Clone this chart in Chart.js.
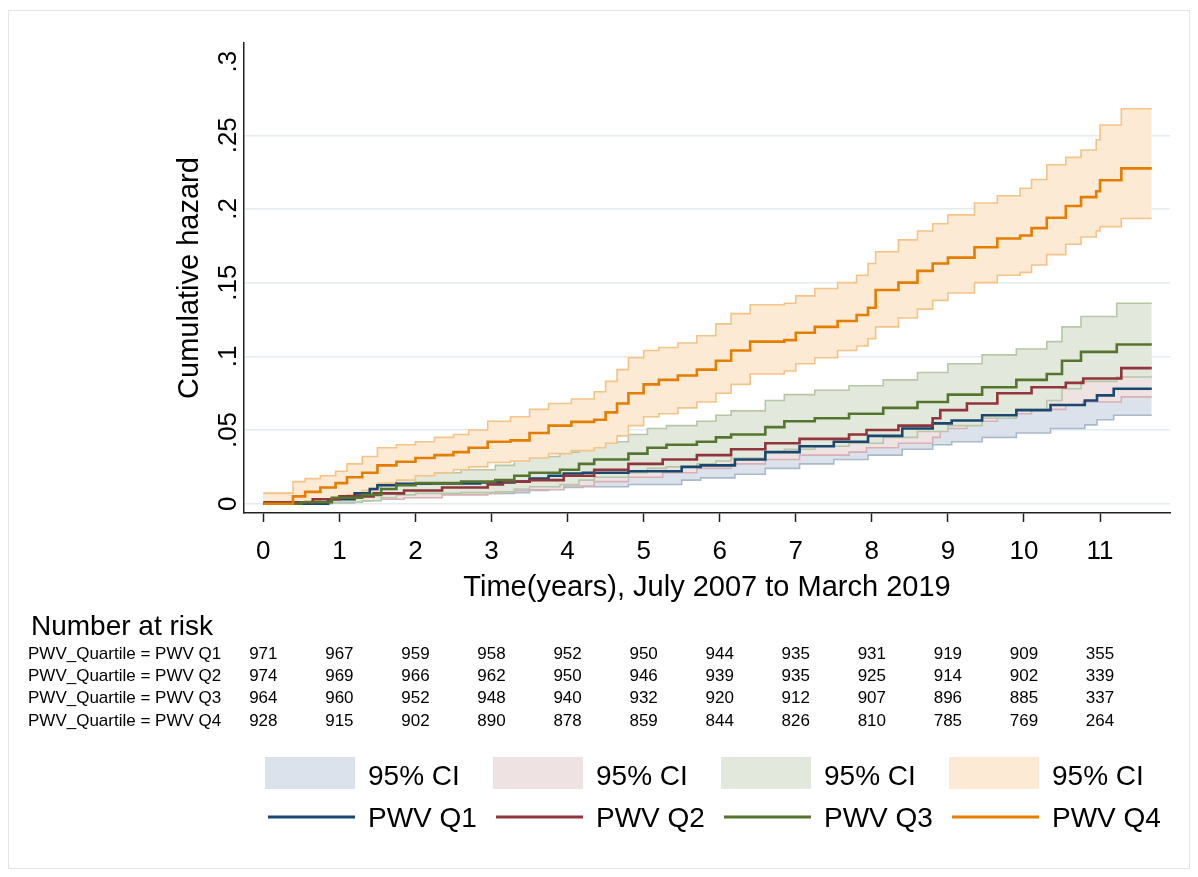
<!DOCTYPE html>
<html>
<head>
<meta charset="utf-8">
<title>Cumulative hazard by PWV quartile</title>
<script src="https://cdn.jsdelivr.net/npm/chart.js@4.4.1/dist/chart.umd.min.js"></script>
<style>
    html, body { margin: 0; padding: 0; background: #ffffff; }
    #wrap { position: relative; width: 1198px; height: 877px; }
</style>
</head>
<body>
<div id="wrap"><canvas id="hazard-chart" width="1198" height="877"></canvas></div>
<script>
// ============================================
// Nelson-Aalen cumulative hazard by PWV quartile, with 95% CI bands
// and a number-at-risk table underneath
// ============================================

const FONT = "'Liberation Sans', Arial, Helvetica, sans-serif";

// ---- axes ----
const xTickValues = [0, 1, 2, 3, 4, 5, 6, 7, 8, 9, 10, 11];
const xTickLabels = ['0', '1', '2', '3', '4', '5', '6', '7', '8', '9', '10', '11'];
const yTickValues = [0, 0.05, 0.1, 0.15, 0.2, 0.25, 0.3];
const yTickLabels = ['0', '.05', '.1', '.15', '.2', '.25', '.3'];
const xTitle = 'Time(years), July 2007 to March 2019';
const yTitle = 'Cumulative hazard';

const groupNames = ['PWV Q1', 'PWV Q2', 'PWV Q3', 'PWV Q4'];
const ciLabel = '95% CI';

// ---- step data: event times (years), estimate, lower and upper CI ----
const q1Time = [0, 0.85, 1.2, 1.4, 1.5, 1.75, 2.2, 2.85, 3.3, 3.5, 3.75, 3.95, 4.2, 4.8, 5.5, 5.75, 6.2, 6.6, 7.05, 7.5, 7.95, 8.4, 8.8, 9.05, 9.45, 9.9, 10.35, 10.8, 10.96, 11.18, 11.68];
const q1Est  = [0, 0.003, 0.007, 0.010, 0.0125, 0.0135, 0.0138, 0.0145, 0.015, 0.017, 0.019, 0.0205, 0.021, 0.022, 0.025, 0.026, 0.030, 0.035, 0.039, 0.042, 0.046, 0.051, 0.0545, 0.0565, 0.060, 0.0635, 0.067, 0.070, 0.0735, 0.078, 0.078];
const q1Lo   = [0, 0.0005, 0.002, 0.004, 0.005, 0.006, 0.0065, 0.007, 0.0075, 0.009, 0.010, 0.011, 0.0115, 0.013, 0.016, 0.0175, 0.020, 0.024, 0.027, 0.030, 0.033, 0.037, 0.040, 0.042, 0.045, 0.048, 0.051, 0.0535, 0.057, 0.060, 0.060];
const q1Hi   = [0, 0.006, 0.012, 0.016, 0.020, 0.021, 0.021, 0.022, 0.0225, 0.025, 0.028, 0.030, 0.0305, 0.031, 0.034, 0.035, 0.040, 0.046, 0.051, 0.054, 0.059, 0.065, 0.069, 0.071, 0.075, 0.079, 0.083, 0.087, 0.090, 0.096, 0.096];

const q2Time = [0, 0.65, 1.0, 1.45, 1.85, 2.35, 2.95, 3.15, 3.5, 3.95, 4.35, 4.8, 5.25, 5.7, 6.15, 6.6, 7.05, 7.7, 7.93, 8.35, 8.8, 8.9, 9.25, 9.65, 10.1, 10.55, 10.78, 11.28, 11.68];
const q2Est  = [0.001, 0.003, 0.005, 0.007, 0.009, 0.011, 0.013, 0.015, 0.016, 0.019, 0.023, 0.027, 0.030, 0.033, 0.037, 0.041, 0.044, 0.047, 0.050, 0.053, 0.058, 0.0635, 0.068, 0.075, 0.079, 0.082, 0.085, 0.092, 0.092];
const q2Lo   = [0, 0.001, 0.002, 0.003, 0.004, 0.006, 0.007, 0.009, 0.0095, 0.012, 0.015, 0.018, 0.021, 0.024, 0.027, 0.030, 0.033, 0.035, 0.038, 0.041, 0.045, 0.051, 0.056, 0.061, 0.064, 0.067, 0.069, 0.0725, 0.0725];
const q2Hi   = [0.007, 0.008, 0.010, 0.013, 0.016, 0.018, 0.021, 0.023, 0.024, 0.028, 0.032, 0.036, 0.040, 0.043, 0.047, 0.052, 0.056, 0.059, 0.063, 0.066, 0.070, 0.076, 0.081, 0.088, 0.093, 0.096, 0.100, 0.109, 0.109];

const q3Time = [0, 0.5, 0.9, 1.3, 1.55, 1.75, 2.0, 2.6, 3.05, 3.3, 3.5, 3.9, 4.15, 4.35, 4.8, 5.05, 5.3, 5.7, 5.95, 6.15, 6.6, 6.85, 7.25, 7.7, 8.15, 8.6, 9.0, 9.45, 9.9, 10.3, 10.5, 10.75, 11.22, 11.68];
const q3Est  = [0, 0.001, 0.004, 0.006, 0.010, 0.0125, 0.014, 0.015, 0.016, 0.019, 0.021, 0.023, 0.027, 0.030, 0.034, 0.038, 0.040, 0.042, 0.045, 0.047, 0.052, 0.056, 0.058, 0.061, 0.065, 0.069, 0.074, 0.079, 0.084, 0.088, 0.097, 0.103, 0.108, 0.108];
const q3Lo   = [0, 0, 0.001, 0.002, 0.004, 0.006, 0.007, 0.0075, 0.008, 0.010, 0.0115, 0.013, 0.016, 0.018, 0.021, 0.024, 0.025, 0.027, 0.029, 0.031, 0.035, 0.037, 0.039, 0.041, 0.045, 0.049, 0.053, 0.058, 0.064, 0.070, 0.078, 0.083, 0.086, 0.086];
const q3Hi   = [0.001, 0.003, 0.008, 0.011, 0.016, 0.019, 0.021, 0.023, 0.026, 0.030, 0.032, 0.035, 0.039, 0.042, 0.047, 0.051, 0.053, 0.056, 0.060, 0.063, 0.070, 0.074, 0.077, 0.080, 0.084, 0.089, 0.095, 0.101, 0.105, 0.110, 0.120, 0.127, 0.136, 0.136];

const q4Time = [0, 0.39, 0.55, 0.75, 0.95, 1.1, 1.3, 1.5, 1.75, 2.0, 2.25, 2.5, 2.7, 2.95, 3.25, 3.5, 3.75, 4.05, 4.35, 4.5, 4.65, 4.8, 5.0, 5.2, 5.45, 5.7, 5.95, 6.15, 6.4, 6.85, 7.0, 7.25, 7.55, 7.8, 7.95, 8.05, 8.35, 8.6, 8.8, 9.0, 9.35, 9.65, 9.95, 10.1, 10.3, 10.55, 10.75, 10.95, 11.0, 11.28, 11.68];
const q4Est  = [0, 0.005, 0.008, 0.011, 0.014, 0.018, 0.021, 0.026, 0.0285, 0.031, 0.033, 0.035, 0.038, 0.042, 0.043, 0.048, 0.053, 0.0555, 0.057, 0.062, 0.068, 0.075, 0.081, 0.084, 0.087, 0.091, 0.097, 0.104, 0.110, 0.111, 0.116, 0.120, 0.124, 0.128, 0.133, 0.145, 0.150, 0.158, 0.163, 0.167, 0.174, 0.180, 0.182, 0.187, 0.194, 0.202, 0.208, 0.212, 0.2195, 0.2275, 0.2275];
const q4Lo   = [0, 0.001, 0.002, 0.003, 0.004, 0.006, 0.009, 0.014, 0.016, 0.019, 0.021, 0.023, 0.025, 0.028, 0.029, 0.031, 0.034, 0.036, 0.038, 0.041, 0.046, 0.053, 0.059, 0.061, 0.065, 0.069, 0.075, 0.081, 0.088, 0.090, 0.095, 0.099, 0.104, 0.107, 0.112, 0.120, 0.126, 0.132, 0.138, 0.143, 0.150, 0.155, 0.157, 0.162, 0.169, 0.176, 0.181, 0.185, 0.188, 0.1935, 0.1935];
const q4Hi   = [0.007, 0.015, 0.017, 0.019, 0.022, 0.027, 0.032, 0.038, 0.040, 0.042, 0.045, 0.047, 0.050, 0.056, 0.059, 0.064, 0.068, 0.071, 0.076, 0.083, 0.091, 0.099, 0.104, 0.106, 0.109, 0.114, 0.122, 0.129, 0.135, 0.136, 0.141, 0.146, 0.150, 0.155, 0.163, 0.171, 0.179, 0.185, 0.190, 0.196, 0.204, 0.209, 0.214, 0.220, 0.230, 0.235, 0.240, 0.247, 0.257, 0.268, 0.268];

// ---- number at risk, one value per x tick ----
const riskTitle = 'Number at risk';
const riskRowLabels = ['PWV_Quartile = PWV Q1', 'PWV_Quartile = PWV Q2', 'PWV_Quartile = PWV Q3', 'PWV_Quartile = PWV Q4'];
const riskQ1 = [971, 967, 959, 958, 952, 950, 944, 935, 931, 919, 909, 355];
const riskQ2 = [974, 969, 966, 962, 950, 946, 939, 935, 925, 914, 902, 339];
const riskQ3 = [964, 960, 952, 948, 940, 932, 920, 912, 907, 896, 885, 337];
const riskQ4 = [928, 915, 902, 890, 878, 859, 844, 826, 810, 785, 769, 264];

// ---- styling ----
const lineColors = ['#1a476f', '#90353b', '#55752f', '#e37e00'];
const bandFill   = ['#dbe2eb', '#eee2e2', '#e2e9dc', '#fcead4'];
const bandEdge   = ['#a9b9cc', '#d9b0b3', '#b6c6a6', '#f4c386'];

const groups = [
    { time: q1Time, est: q1Est, lo: q1Lo, hi: q1Hi, risk: riskQ1 },
    { time: q2Time, est: q2Est, lo: q2Lo, hi: q2Hi, risk: riskQ2 },
    { time: q3Time, est: q3Est, lo: q3Lo, hi: q3Hi, risk: riskQ3 },
    { time: q4Time, est: q4Est, lo: q4Lo, hi: q4Hi, risk: riskQ4 }
];

function toPoints(times, values) {
    return times.map((t, i) => ({ x: t, y: values[i] }));
}

/**
 * Build datasets. Estimates sit on top (low order); each CI band is the
 * upper bound filled down to the lower bound, later quartiles over earlier.
 */
const datasets = [];
groups.forEach((g, k) => {
    datasets.push({
        label: groupNames[k],
        data: toPoints(g.time, g.est),
        borderColor: lineColors[k],
        borderWidth: 2.6,
        stepped: true,
        pointRadius: 0,
        fill: false,
        order: 3 - k
    });
});
groups.forEach((g, k) => {
    datasets.push({
        label: ciLabel + ' upper ' + groupNames[k],
        data: toPoints(g.time, g.hi),
        borderColor: bandEdge[k],
        backgroundColor: bandFill[k],
        borderWidth: 1.6,
        stepped: true,
        pointRadius: 0,
        fill: '+1',
        order: 17 - 2 * k
    });
    datasets.push({
        label: ciLabel + ' lower ' + groupNames[k],
        data: toPoints(g.time, g.lo),
        borderColor: bandEdge[k],
        borderWidth: 1.6,
        stepped: true,
        pointRadius: 0,
        fill: false,
        order: 16 - 2 * k
    });
});

// Faint outer frame round the whole graph region
const framePlugin = {
    id: 'frame',
    beforeDraw(chart) {
        const { ctx } = chart;
        ctx.save();
        ctx.fillStyle = '#ffffff';
        ctx.fillRect(0, 0, chart.width, chart.height);
        ctx.strokeStyle = '#e4e4e4';
        ctx.lineWidth = 1;
        ctx.strokeRect(8.5, 10.5, 1181, 858);
        ctx.restore();
    }
};

// Number-at-risk table, columns placed on the x scale ticks
const riskTablePlugin = {
    id: 'riskTable',
    afterDraw(chart) {
        const { ctx } = chart;
        const xScale = chart.scales.x;
        ctx.save();
        ctx.fillStyle = '#000000';
        ctx.textAlign = 'left';
        ctx.textBaseline = 'alphabetic';
        ctx.font = `28px ${FONT}`;
        ctx.fillText(riskTitle, 31, 635);

        ctx.font = `17px ${FONT}`;
        ctx.textBaseline = 'middle';
        groups.forEach((g, k) => {
            const y = 654 + k * 22.3;
            ctx.textAlign = 'left';
            ctx.fillText(riskRowLabels[k], 28, y);
            ctx.textAlign = 'center';
            g.risk.forEach((n, i) => {
                ctx.fillText(String(n), xScale.getPixelForValue(xTickValues[i]), y);
            });
        });
        ctx.restore();
    }
};

// Two-row legend: CI swatches above, estimate lines below
const legendPlugin = {
    id: 'bottomLegend',
    afterDraw(chart) {
        const { ctx } = chart;
        ctx.save();
        ctx.font = `28px ${FONT}`;
        ctx.textAlign = 'left';
        ctx.textBaseline = 'middle';
        groupNames.forEach((name, k) => {
            const left = 265 + k * 228;
            ctx.fillStyle = bandFill[k];
            ctx.fillRect(left, 757, 90, 32);
            ctx.fillStyle = '#000000';
            ctx.fillText(ciLabel, left + 103, 777);

            ctx.strokeStyle = lineColors[k];
            ctx.lineWidth = 3;
            ctx.beginPath();
            ctx.moveTo(left + 3, 817);
            ctx.lineTo(left + 90, 817);
            ctx.stroke();
            ctx.fillText(name, left + 103, 819);
        });
        ctx.restore();
    }
};

const ctx = document.getElementById('hazard-chart').getContext('2d');
new Chart(ctx, {
    type: 'line',
    data: { datasets: datasets },
    options: {
        responsive: false,
        animation: false,
        devicePixelRatio: 1,
        layout: { padding: { left: 173, top: 43, right: 28, bottom: 272 } },
        plugins: {
            legend: { display: false },
            tooltip: { enabled: false }
        },
        scales: {
            x: {
                type: 'linear',
                min: -0.254,
                max: 11.92,
                afterBuildTicks: scale => { scale.ticks = xTickValues.map(v => ({ value: v })); },
                afterFit: scale => { scale.height = 92; },
                grid: {
                    drawOnChartArea: false,
                    drawTicks: true,
                    tickLength: 9,
                    tickColor: '#222222',
                    tickWidth: 1.5
                },
                border: { display: true, color: '#222222', width: 1.5 },
                ticks: {
                    color: '#000000',
                    font: { family: FONT, size: 26 },
                    padding: 14,
                    minRotation: 0,
                    maxRotation: 0,
                    autoSkip: false,
                    callback: v => xTickLabels[xTickValues.indexOf(v)]
                },
                title: {
                    display: true,
                    text: xTitle,
                    color: '#000000',
                    font: { family: FONT, size: 29 },
                    padding: 0
                }
            },
            y: {
                type: 'linear',
                min: -0.0063,
                max: 0.3126,
                afterBuildTicks: scale => { scale.ticks = yTickValues.map(v => ({ value: v })); },
                afterFit: scale => { scale.width = 71; },
                grid: {
                    color: c => (c.tick && c.tick.value < 0.29) ? '#e5ecf0' : 'rgba(0,0,0,0)',
                    lineWidth: 1.5,
                    drawTicks: false
                },
                border: { display: true, color: '#222222', width: 1.5 },
                ticks: {
                    color: '#000000',
                    font: { family: FONT, size: 26 },
                    padding: -3,
                    minRotation: 90,
                    maxRotation: 90,
                    crossAlign: 'center',
                    autoSkip: false,
                    callback: v => yTickLabels[yTickValues.indexOf(v)]
                },
                title: {
                    display: true,
                    text: yTitle,
                    color: '#000000',
                    font: { family: FONT, size: 29 },
                    padding: 0
                }
            }
        }
    },
    plugins: [framePlugin, riskTablePlugin, legendPlugin]
});
</script>
</body>
</html>
